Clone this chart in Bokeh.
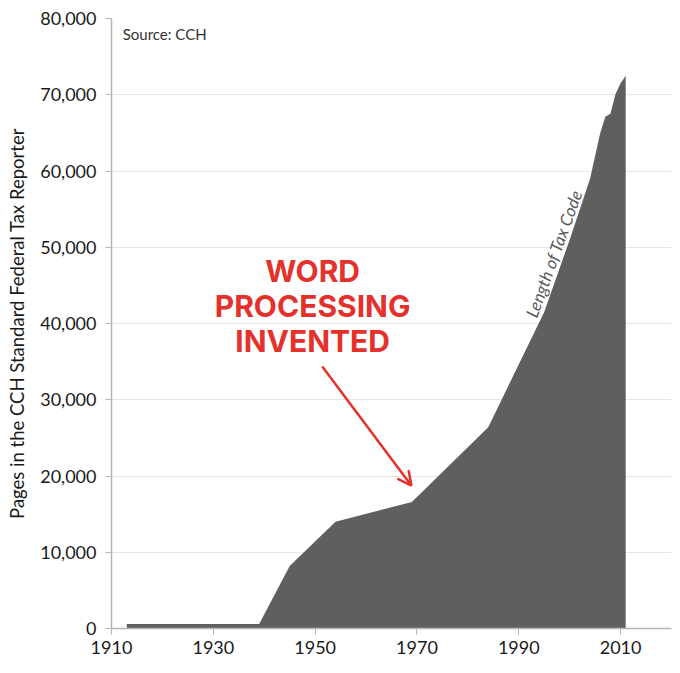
from bokeh.plotting import figure
from bokeh.models import (ColumnDataSource, FixedTicker, NumeralTickFormatter,
                          Arrow, OpenHead, Label, Range1d)
from bokeh.embed import file_html
from bokeh.resources import INLINE

# ---- data ----
years = [1913, 1939, 1945, 1954, 1969, 1984, 1995, 2000, 2004, 2005, 2006, 2007, 2008, 2009, 2010, 2011]
pages = [600, 600, 8200, 14000, 16600, 26400, 41500, 51000, 59000, 62000, 65000, 67100, 67500, 70100, 71500, 72500]
x_ticks = [1910, 1930, 1950, 1970, 1990, 2010]
y_ticks = [0, 10000, 20000, 30000, 40000, 50000, 60000, 70000, 80000]
headline = ["WORD", "PROCESSING", "INVENTED"]

src = ColumnDataSource(dict(x=years, y=pages, base=[0] * len(years)))

p = figure(frame_width=560, frame_height=610, output_backend="svg",
           toolbar_location=None, x_range=Range1d(1910, 2020),
           y_range=Range1d(0, 80000),
           min_border_left=111, min_border_right=1,
           min_border_top=18, min_border_bottom=37)
p.outline_line_color = None
p.background_fill_color = "white"
p.border_fill_color = "white"

p.varea(x="x", y1="base", y2="y", source=src, fill_color="#5f5f5f")

FONT = "Lato"
for ax in (p.xaxis[0], p.yaxis[0]):
    ax.axis_line_color = "#b5b5b5"
    ax.axis_line_width = 1.5
    ax.major_tick_line_color = "#b5b5b5"
    ax.major_tick_out = 6
    ax.major_tick_in = 0
    ax.minor_tick_line_color = None
    ax.major_label_text_font = FONT
    ax.major_label_text_font_size = "18px"
    ax.major_label_text_color = "#1a1a1a"

p.yaxis.major_label_standoff = 9
p.xaxis.major_label_standoff = 6
p.xaxis.ticker = FixedTicker(ticks=x_ticks)
p.yaxis.ticker = FixedTicker(ticks=y_ticks)
p.yaxis.formatter = NumeralTickFormatter(format="0,0")
p.yaxis.axis_label = "Pages in the CCH Standard Federal Tax Reporter"
p.yaxis.axis_label_text_font = FONT
p.yaxis.axis_label_text_font_size = "18.5px"
p.yaxis.axis_label_text_font_style = "normal"
p.yaxis.axis_label_text_color = "#1a1a1a"
p.yaxis.axis_label_standoff = 9

p.xgrid.grid_line_color = None
p.ygrid.grid_line_color = "#e6e6e6"
p.ygrid.grid_line_width = 1.2
p.ygrid.level = "underlay"

p.add_layout(Label(x=1912.2, y=78030, text="Source: CCH", text_font=FONT,
                   text_font_size="15px", text_color="#333333",
                   text_baseline="middle", text_align="left"))

for i, t in enumerate(headline):
    p.add_layout(Label(x=1949.5, y=46950 - i * 4590, text=t, text_font="Inter",
                       text_font_style="bold", text_font_size="30px",
                       text_color="#e4312b", text_align="center",
                       text_baseline="middle"))

p.add_layout(Arrow(x_start=1951.4, y_start=34360, x_end=1968.9, y_end=18750,
                   line_color="#e4312b", line_width=2.5,
                   end=OpenHead(line_color="#e4312b", line_width=2.5, size=14)))

p.add_layout(Label(x=1996.9, y=49180, text="Length of Tax Code", text_font=FONT,
                   text_font_style="italic", text_font_size="17px",
                   text_color="#5a5a5a", angle=70, angle_units="deg",
                   text_align="center", text_baseline="middle"))

open("out.html", "w").write(file_html(p, INLINE))
